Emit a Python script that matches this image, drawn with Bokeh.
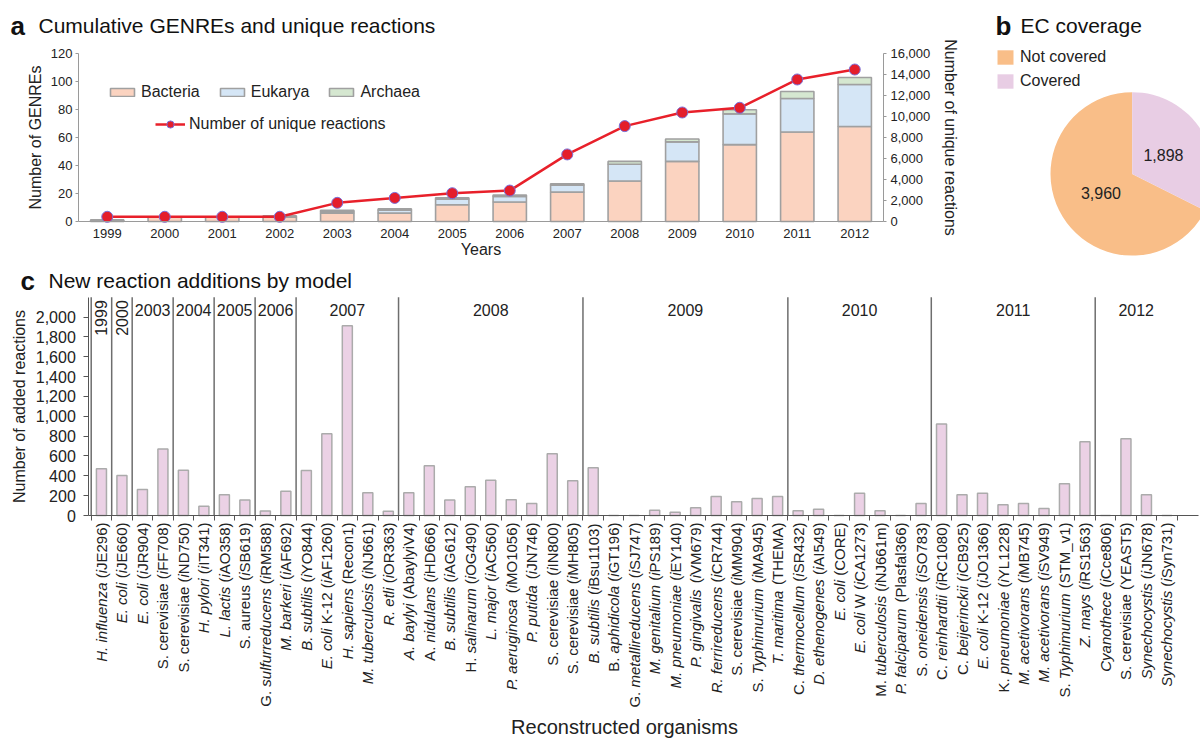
import math
from bokeh.plotting import figure
from bokeh.models import (ColumnDataSource, Range1d, LinearAxis, Legend,
                          LegendItem, Label, FixedTicker, NumeralTickFormatter)
from bokeh.layouts import column, row
from bokeh.embed import file_html
from bokeh.resources import INLINE

FONT = "Liberation Sans"
TXT = "#222222"

# ---------------- data ----------------
years = ["1999", "2000", "2001", "2002", "2003", "2004", "2005",
         "2006", "2007", "2008", "2009", "2010", "2011", "2012"]
bacteria = [1, 3, 3, 3, 6, 6, 12, 14, 21, 29, 43, 55, 64, 68]
eukarya = [0, 0, 0, 0, 1, 2, 4, 4, 5, 12, 14, 22, 24, 30]
archaea = [0, 0, 0, 1, 1, 1, 1, 1, 1, 2, 2, 3, 5, 5]
unique_reactions = [450, 450, 450, 450, 1780, 2250, 2700, 2950, 6400,
                    9100, 10400, 10850, 13550, 14500]

ec_labels = ["Not covered", "Covered"]
ec_counts = [3960, 1898]

model_years = ["1999", "2000", "2003", "2004", "2005", "2006", "2007",
               "2008", "2009", "2010", "2011", "2012"]
models_per_year = [1, 1, 2, 2, 2, 2, 5, 9, 10, 7, 8, 4]
model_labels = [
    "*H. influenza* (*i*JE296)", "*E. coli* (*i*JE660)",
    "*E. coli* (*i*JR904)", "S. cerevisiae (*i*FF708)",
    "S. cerevisiae (*i*ND750)", "*H. pylori* (*i*IT341)",
    "*L. lactis* (*i*AO358)", "S. aureus (*i*SB619)",
    "G. *sulfurreducens* (*i*RM588)", "*M. barkeri* (*i*AF692)",
    "*B. subtilis* (*i*YO844)", "*E. coli* K-12 (*i*AF1260)", "*H. sapiens* (Recon1)",
    "*M. tuberculosis* (*i*NJ661)", "*R. etli* (*i*OR363)",
    "*A. baylyi* (AbaylyiV4)", "A. *nidulans* (*i*HD666)", "*B. subtilis* (*i*AG612)",
    "H. *salinarum* (*i*OG490)", "*L. major* (*i*AC560)", "*P. aeruginosa* (*i*MO1056)",
    "*P. putida* (*i*JN746)", "S. cerevisiae (*i*IN800)", "S. cerevisiae (*i*MH805)",
    "*B. subtilis* (*i*Bsu1103)", "B. *aphidicola* (*i*GT196)",
    "G. *metallireducens* (*i*SJ747)", "*M. genitalium* (*i*PS189)",
    "*M. pneumoniae* (*i*EY140)", "*P. gingivalis* (*i*VM679)",
    "*R. ferrireducens* (*i*CR744)", "S. cerevisiae (*i*MM904)",
    "S. *Typhimurium* (*i*MA945)", "*T. maritima* (THEMA)",
    "C. *thermocellum* (*i*SR432)", "*D. ethenogenes* (*i*AI549)", "*E. coli* (CORE)",
    "*E. coli* W (*i*CA1273)", "M. *tuberculosis* (*i*NJ661m)",
    "*P. falciparum* (Plasfal366)", "S. *oneidensis* (*i*SO783)",
    "C. *reinhardtii* (*i*RC1080)", "C. *beijerinckii* (*i*CB925)",
    "*E. coli* K-12 (*i*JO1366)", "K. *pneumoniae* (*i*YL1228)",
    "*M. acetivorans* (*i*MB745)", "*M. acetivorans* (*i*SV949)",
    "S. *Typhimurium* (STM_v1)", "*Z. mays* (*i*RS1563)",
    "*Cyanothece* (*i*Cce806)", "S. cerevisiae (YEAST5)",
    "*Synechocystis* (*i*JN678)", "*Synechocystis* (*i*Syn731)",
]
added_reactions = [470, 403, 262, 669, 457, 94, 208, 155, 45, 245,
                   454, 823, 1913, 229, 44,
                   229, 501, 155, 289, 356, 158, 121, 622, 350,
                   481, 0, 0, 54, 34, 77, 192, 138, 171, 192,
                   47, 64, 0, 225, 47, 0, 121,
                   921, 208, 225, 108, 121, 71, 319, 743,
                   0, 773, 208, 0]

# ---------------- helpers ----------------
_W = {" ": 278, "(": 333, ")": 333, "-": 333, ".": 278, "_": 556, ",": 278}
_W.update({d: 556 for d in "0123456789"})
_W.update(dict(zip("ABCDEFGHIJKLMNOPQRSTUVWXYZ",
                   [667, 667, 722, 722, 667, 611, 778, 722, 278, 500, 667, 556, 833,
                    722, 778, 667, 778, 722, 667, 611, 722, 667, 944, 667, 667, 611])))
_W.update(dict(zip("abcdefghijklmnopqrstuvwxyz",
                   [556, 556, 500, 556, 556, 278, 556, 556, 222, 222, 500, 222, 833,
                    556, 556, 556, 556, 333, 500, 278, 556, 500, 722, 500, 500, 500])))


def text_width(s, size):
    return sum(_W.get(ch, 556) for ch in s) * size / 1000.0


def parse_runs(lbl):
    runs, buf, ital = [], "", False
    for ch in lbl:
        if ch == "*":
            if buf:
                runs.append((buf, ital))
            buf, ital = "", not ital
        else:
            buf += ch
    if buf:
        runs.append((buf, ital))
    return runs


def style_axis(ax, tick_size, color, label_size="16px"):
    ax.axis_line_color = color
    ax.major_tick_line_color = color
    ax.minor_tick_line_color = None
    ax.major_tick_in = 0
    ax.major_label_text_font = FONT
    ax.major_label_text_font_size = tick_size
    ax.major_label_text_color = TXT
    ax.axis_label_text_font = FONT
    ax.axis_label_text_font_size = label_size
    ax.axis_label_text_font_style = "normal"
    ax.axis_label_text_color = TXT


def px_label(p, X, Y, left, bottom, text, **kw):
    """Label placed at page-pixel (X, Y); figure frame == canvas at (left, bottom)."""
    opts = dict(text_font=FONT, text_color=TXT)
    opts.update(kw)
    p.add_layout(Label(x=X - left, y=bottom - Y, x_units="screen", y_units="screen",
                       text=text, **opts))


def titles(p, letter, text, lx, tx, base_y, left, bottom):
    px_label(p, lx, base_y, left, bottom, letter, text_font_size="26px",
             text_font_style="bold", text_color="#111111", text_baseline="alphabetic")
    px_label(p, tx, base_y, left, bottom, text, text_font_size="21px",
             text_color="#111111", text_baseline="alphabetic")


def bare_figure(w, h, xr, yr):
    p = figure(width=w, height=h, x_range=xr, y_range=yr, output_backend="svg",
               toolbar_location=None, title=None, min_border=0,
               x_axis_location=None, y_axis_location=None)
    p.outline_line_color = None
    p.grid.visible = False
    return p


# ---------------- page geometry (pixels) ----------------
W_TOT, H_TOT = 1200, 738
A_W, TOP_H = 985, 262
B_W = W_TOT - A_W
C_H = H_TOT - TOP_H

# ---------------- panel a ----------------
A_X0, A_X1, A_Y0, A_YT = 78.0, 883.0, 221.0, 53.3
ax_ppu = (A_X1 - A_X0) / len(years)
ay_ppu = (A_Y0 - A_YT) / 120.0
xr_a = Range1d(-A_X0 / ax_ppu, (A_W - A_X0) / ax_ppu)
yr_a = Range1d(-(TOP_H - A_Y0) / ay_ppu, A_Y0 / ay_ppu)
pa = bare_figure(A_W, TOP_H, xr_a, yr_a)
k_right = 16000 / 120.0
pa.extra_y_ranges = {"rx": Range1d(yr_a.start * k_right, yr_a.end * k_right)}

xa_pos = [i + 0.5 for i in range(len(years))]
src_a = ColumnDataSource(dict(x=xa_pos, year=years, Bacteria=bacteria, Eukarya=eukarya,
                              Archaea=archaea, reactions=unique_reactions))
cols_a = ["#FBD3C0", "#D5E6F6", "#D5E7D0"]
bars_a = pa.vbar_stack(["Bacteria", "Eukarya", "Archaea"], x="x", width=0.58, source=src_a,
                       fill_color=cols_a, line_color="#a0a0a0", line_width=1.6)
line_r = pa.line(x="x", y="reactions", source=src_a, y_range_name="rx",
                 line_color="#E8202A", line_width=2.5)
dot_r = pa.scatter(x="x", y="reactions", source=src_a, y_range_name="rx", size=11,
                   fill_color="#E41E2B", line_color="#7a6fd8", line_width=1)

yl = LinearAxis(fixed_location=0, bounds=(0, 120),
                ticker=FixedTicker(ticks=list(range(0, 121, 20))),
                axis_label="Number of GENREs")
style_axis(yl, "13px", "#9a9a9a")
yl.major_tick_out = 3
yl.major_label_standoff = 3
yl.axis_label_standoff = 4
pa.add_layout(yl, "left")

yrx = LinearAxis(y_range_name="rx", fixed_location=len(years), bounds=(0, 16000),
                 ticker=FixedTicker(ticks=list(range(0, 16001, 2000))),
                 formatter=NumeralTickFormatter(format="0,0"),
                 axis_label="Number of unique reactions")
style_axis(yrx, "13px", "#9a9a9a")
yrx.major_tick_out = 3
yrx.major_label_standoff = 4
yrx.axis_label_standoff = 9
pa.add_layout(yrx, "right")

xa = LinearAxis(fixed_location=0, bounds=(0, len(years)),
                ticker=FixedTicker(ticks=xa_pos),
                major_label_overrides={x: y for x, y in zip(xa_pos, years)},
                axis_label="Years")
style_axis(xa, "13px", "#9a9a9a")
xa.major_tick_line_color = None
xa.major_label_standoff = 1
xa.axis_label_standoff = 0
pa.add_layout(xa, "below")

leg_common = dict(label_text_font=FONT, label_text_font_size="16px", label_text_color=TXT,
                  border_line_color=None, background_fill_alpha=0, padding=0, margin=0)
leg1 = Legend(items=[LegendItem(label=n, renderers=[r]) for n, r in
                     zip(["Bacteria", "Eukarya", "Archaea"], bars_a)],
              orientation="horizontal", location=(107, 161), glyph_width=30, glyph_height=10,
              label_standoff=4, spacing=17, **leg_common)
leg2 = Legend(items=[LegendItem(label="Number of unique reactions", renderers=[line_r, dot_r])],
              location=(155, 129), glyph_width=30, glyph_height=18, label_standoff=4,
              **leg_common)
pa.add_layout(leg1)
pa.add_layout(leg2)
titles(pa, "a", "Cumulative GENREs and unique reactions", 10, 38, 25, 0, TOP_H)

# ---------------- panel b ----------------
total_ec = sum(ec_counts)
frac = [c / total_ec for c in ec_counts]
start_cov = math.pi / 2                      # covered slice starts at 12 o'clock, clockwise
end_cov = start_cov - 2 * math.pi * frac[1]
starts = [end_cov, start_cov]
ends = [start_cov - 2 * math.pi, end_cov]
mids = [(s + e) / 2 for s, e in zip(starts, ends)]
CX, CY, R = 1131.7, -173.4, 81.7
src_b = ColumnDataSource(dict(label=ec_labels, count=ec_counts, start=starts, end=ends,
                              color=["#F9BE88", "#E8CDE4"]))
pb = bare_figure(B_W, TOP_H, Range1d(A_W, W_TOT), Range1d(-TOP_H, 0))
wr = pb.wedge(x=CX, y=CY, radius=R, start_angle="start", end_angle="end", direction="clock",
              fill_color="color", line_color=None, source=src_b)
for cnt, m in zip(ec_counts, mids):
    pb.add_layout(Label(x=CX + 0.45 * R * math.cos(m), y=CY + 0.45 * R * math.sin(m),
                        text=f"{cnt:,}", text_font=FONT, text_font_size="16px",
                        text_color=TXT, text_align="center", text_baseline="middle"))
leg_b = Legend(items=[LegendItem(label=lbl, renderers=[wr], index=i)
                      for i, lbl in enumerate(ec_labels)],
               location=(10, 172), glyph_width=20, glyph_height=18, label_height=18,
               label_standoff=5, spacing=6, **leg_common)
pb.add_layout(leg_b)
titles(pb, "b", "EC coverage", 995, 1020, 25, A_W, TOP_H)

# ---------------- panel c ----------------
C_X0, C_PITCH, C_Y0, C_YT = 90.7, 20.49, 515.0, 296.7
cy_ppu = (C_Y0 - C_YT) / 2200.0
xr_c = Range1d(-C_X0 / C_PITCH, (W_TOT - C_X0) / C_PITCH)
yr_c = Range1d(-(H_TOT - C_Y0) / cy_ppu, (C_Y0 - TOP_H) / cy_ppu)
pc = bare_figure(W_TOT, C_H, xr_c, yr_c)

n_models = len(added_reactions)
xc = [i + 0.5 for i in range(n_models)]
src_c = ColumnDataSource(dict(x=xc, added=added_reactions, label=model_labels))
pc.vbar(x="x", top="added", width=0.49, source=src_c, fill_color="#EBD1E5",
        line_color="#ababab", line_width=1.5)

bounds = [0]
for k in models_per_year:
    bounds.append(bounds[-1] + k)
seps = bounds[:-1]
pc.segment(x0=seps, y0=[0] * len(seps), x1=seps, y1=[2200] * len(seps),
           line_color="#6e6e6e", line_width=1.5)
for yr_lbl, a, b in zip(model_years, bounds[:-1], bounds[1:]):
    c = (a + b) / 2
    if b - a == 1:
        pc.add_layout(Label(x=c, y=2200, y_offset=-3, text=yr_lbl, angle=math.pi / 2,
                            text_align="right", text_baseline="middle", text_font=FONT,
                            text_font_size="16px", text_color=TXT))
    else:
        pc.add_layout(Label(x=c, y=2200, y_offset=-13, text=yr_lbl, text_align="center",
                            text_baseline="middle", text_font=FONT, text_font_size="16px",
                            text_color=TXT))

yax_loc = (88.3 - C_X0) / C_PITCH
ycax = LinearAxis(fixed_location=yax_loc, bounds=(0, 2200),
                  ticker=FixedTicker(ticks=list(range(0, 2001, 200))),
                  formatter=NumeralTickFormatter(format="0,0"),
                  axis_label="Number of added reactions")
style_axis(ycax, "16px", "#555555")
ycax.major_tick_out = 5
ycax.major_label_standoff = 8
ycax.axis_label_standoff = 4
pc.add_layout(ycax, "left")

xcax = LinearAxis(fixed_location=0, bounds=(yax_loc, (1198 - C_X0) / C_PITCH),
                  ticker=FixedTicker(ticks=list(range(0, n_models + 1))))
style_axis(xcax, "1px", "#555555")
xcax.major_label_text_alpha = 0
xcax.major_tick_out = 5
pc.add_layout(xcax, "below")

LBL_SIZE = 15
PAD = 7
for xi, lbl in zip(xc, model_labels):
    runs = parse_runs(lbl)
    total = text_width("".join(t for t, _ in runs), LBL_SIZE)
    cum = 0.0
    for t, ital in runs:
        lead = len(t) - len(t.lstrip(" "))
        stripped = t.strip(" ")
        if stripped:
            pos = cum + text_width(" " * lead, LBL_SIZE)
            pc.add_layout(Label(x=xi, y=0, y_offset=-(PAD + total - pos), text=stripped,
                                angle=math.pi / 2, text_align="left", text_baseline="middle",
                                text_font=FONT, text_font_size=f"{LBL_SIZE}px",
                                text_font_style="italic" if ital else "normal",
                                text_color=TXT))
        cum += text_width(t, LBL_SIZE)

px_label(pc, 624, 726, 0, H_TOT, "Reconstructed organisms", text_font_size="20px",
         text_align="center", text_baseline="middle")
titles(pc, "c", "New reaction additions by model", 20, 48, 280, 0, H_TOT)

layout = column(row(pa, pb), pc)
open("out.html", "w").write(file_html(layout, INLINE))
